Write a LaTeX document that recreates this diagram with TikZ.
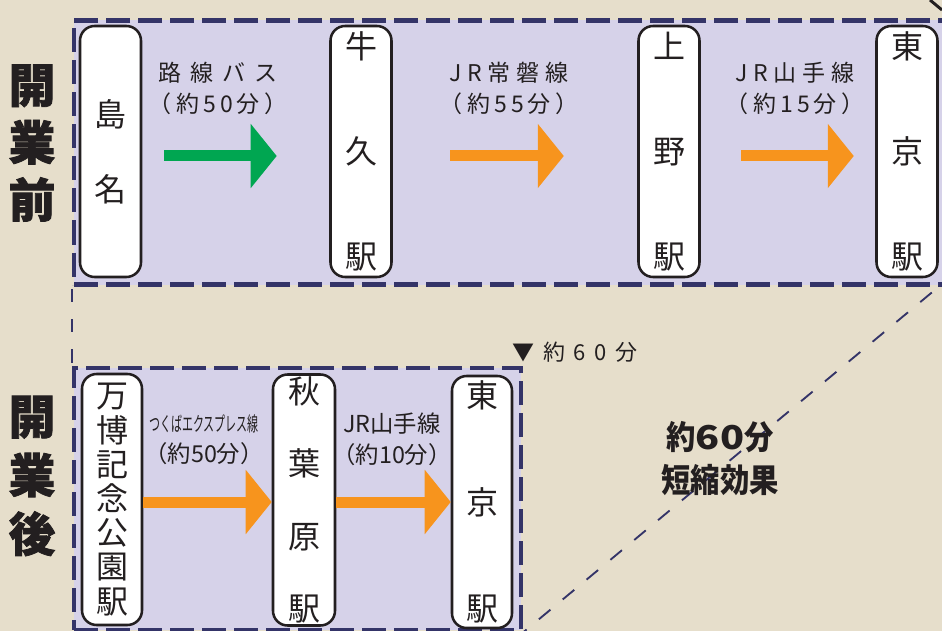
\documentclass[tikz,border=0pt]{standalone}
\usepackage{fontspec}
\setmainfont{Noto Sans CJK JP}
\newfontfamily\spacedjp[LetterSpace=40]{Noto Sans CJK JP}
\newfontfamily\narrowjp[LetterSpace=18]{Noto Sans CJK JP}
\newfontfamily\jrjp[LetterSpace=26]{Noto Sans CJK JP}
\usetikzlibrary{arrows.meta}

\definecolor{bgbeige}{RGB}{230,222,203}
\definecolor{panel}{RGB}{214,210,233}
\definecolor{navy}{RGB}{52,52,104}
\definecolor{ink}{RGB}{35,31,32}
\definecolor{busgreen}{RGB}{0,166,81}
\definecolor{jrorange}{RGB}{247,148,29}

\tikzset{
  frame/.style={draw=navy, fill=panel, line width=3.4pt, dash pattern=on 18pt off 6pt, inner sep=0pt},
  guide/.style={navy, line width=1.6pt},
  station/.style={draw=ink, fill=white, line width=1.9pt, rounded corners=11pt, inner sep=0pt,
    minimum width=45.75pt, minimum height=188.25pt, align=center, text=ink},
  route/.style={line width=8.25pt, -{Triangle[length=19.5pt,width=47.25pt]}},
  rlabel/.style={align=center, text=ink, inner sep=0pt},
  title/.style={rlabel, font=\bfseries\addfontfeature{FakeBold=1.6}\fontsize{35}{43}\selectfont},
}

\begin{document}
\begin{tikzpicture}[x=0.75pt,y=0.75pt,yscale=-1,xscale=1]
\useasboundingbox (0,0) rectangle (942,631);
\fill[bgbeige] (0,0) rectangle (942,631);

%Frames
\node[frame, minimum width=666pt, minimum height=198pt] (before) at (518,152.5) {};
\node[frame, minimum width=335.25pt, minimum height=196.5pt] (after) at (297.5,499) {};

%Guide lines
\coordinate (farcorner) at (942,284);
\coordinate (edgetop) at (930,0);
\coordinate (edgeend) at (942,10);
\draw[guide, dash pattern=on 10pt off 12.75pt, dash phase=-1.5pt] (before.south west) -- (after.north west);
\draw[guide, line width=1.4pt, dash pattern=on 11.25pt off 12pt, dash phase=8pt] (after.south east) -- (farcorner);
\draw[ink, line width=2.2pt] (edgetop) -- (edgeend);

%Stations, before
\node[station, font=\fontsize{24}{56.25}\selectfont] (shima) at (110.5,151.5) {島\\名};
\node[station, font=\fontsize{24}{78.75}\selectfont] (ushiku) at (361,151.5) {牛\\久\\駅};
\node[station, font=\fontsize{24}{78.75}\selectfont] (ueno) at (669,151.5) {上\\野\\駅};
\node[station, font=\fontsize{24}{78.75}\selectfont] (tokyo) at (907,151.5) {東\\京\\駅};

%Stations, after
\node[station, minimum width=45pt, font=\fontsize{24}{25.65}\selectfont] (banpaku) at (112,499.5) {万\\博\\記\\念\\公\\園\\駅};
\node[station, minimum width=46.5pt, font=\fontsize{24}{54.2}\selectfont] (akiba) at (304,500) {秋\\葉\\原\\駅};
\node[station, minimum width=45pt, minimum height=189pt, font=\fontsize{24}{80}\selectfont] (tokyob) at (482,502) {東\\京\\駅};

%Side titles
\node[title] (titlebefore) at (32,143) {開\\業\\前};
\node[title, font=\bfseries\addfontfeature{FakeBold=1.6}\fontsize{35}{44}\selectfont] (titleafter) at (32,476) {開\\業\\後};

%Routes
\coordinate (toprow) at (0,156);
\coordinate (lowrow) at (0,502);
\draw[route, busgreen, shorten <=16.5pt, shorten >=39.4pt] (shima.east |- toprow) -- (ushiku.west |- toprow);
\draw[route, jrorange, shorten <=43.1pt, shorten >=55.1pt] (ushiku.east |- toprow) -- (ueno.west |- toprow);
\draw[route, jrorange, shorten <=30.4pt, shorten >=16.1pt] (ueno.east |- toprow) -- (tokyo.west |- toprow);
\draw[route, jrorange] (banpaku.east |- lowrow) -- (akiba.west |- lowrow);
\draw[route, jrorange] (akiba.east |- lowrow) -- (tokyob.west |- lowrow);

%Route labels
\node[rlabel, font=\fontsize{17.25}{23.25}\selectfont] (buslbl) at (218,88.5) {{\spacedjp 路線バス}\\{\narrowjp （約50分）}};
\node[rlabel, font=\fontsize{17.25}{23.25}\selectfont] (joban) at (509,88.5) {{\jrjp JR常磐線}\\{\narrowjp （約55分）}};
\node[rlabel, font=\fontsize{17.25}{23.25}\selectfont] (yamanote) at (795,88.5) {{\jrjp JR山手線}\\{\narrowjp （約15分）}};
\node[rlabel, font=\fontsize{17.5}{23.25}\selectfont] (tsukuba) at (204,439.5) {\scalebox{0.55}[1]{\fontsize{15}{15}\selectfont つくばエクスプレス線}\\（約50分）};
\node[rlabel, font=\fontsize{17.5}{23.25}\selectfont] (yamanoteb) at (392,439.5) {JR山手線\\（約10分）};

%Totals
\node[rlabel, anchor=west, font=\spacedjp\fontsize{16.5}{20}\selectfont] (total) at (512,352.5) {▼約60分};
\node[rlabel, font=\bfseries\fontsize{22}{32.25}\selectfont] (saving) at (720,458.5)
  {\scalebox{1}[1.12]{約\scalebox{1.35}[1]{60}分}\\\scalebox{1}[1.12]{短縮効果}};

\end{tikzpicture}
\end{document}
